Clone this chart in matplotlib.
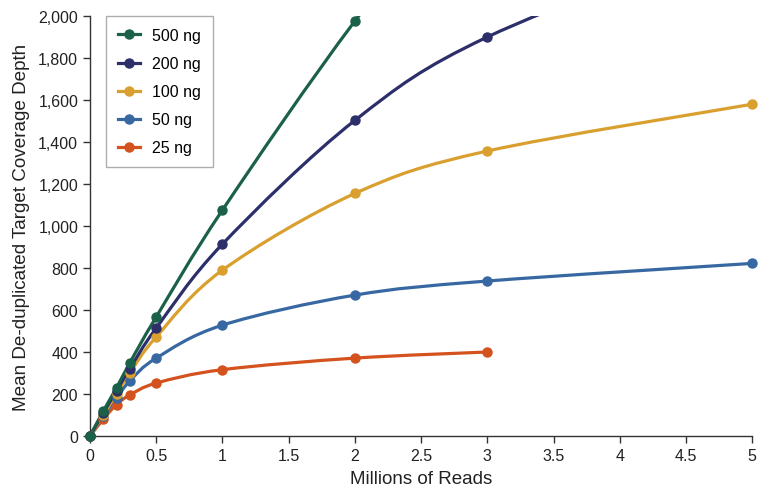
import numpy as np
import matplotlib
matplotlib.use("Agg")
import matplotlib.pyplot as plt
from matplotlib.path import Path
from matplotlib.patches import PathPatch
from matplotlib.lines import Line2D
from matplotlib.ticker import FuncFormatter

plt.rcParams['font.family'] = ['Liberation Sans', 'DejaVu Sans']

labels = ["500 ng", "200 ng", "100 ng", "50 ng", "25 ng"]
colors = ["#1b6048", "#2c2f6a", "#d9a030", "#3868a2", "#d3521e"]

x_500 = [0, 0.1, 0.2, 0.3, 0.5, 1, 2, 3]
y_500 = [0, 119, 229, 348, 567, 1076, 1976, 2750]
x_200 = [0, 0.1, 0.2, 0.3, 0.5, 1, 2, 3, 5]
y_200 = [0, 110, 215, 320, 514, 914, 1503, 1900, 2400]
x_100 = [0, 0.1, 0.2, 0.3, 0.5, 1, 2, 3, 5]
y_100 = [0, 100, 200, 300, 472, 790, 1155, 1357, 1580]
x_50 = [0, 0.1, 0.2, 0.3, 0.5, 1, 2, 3, 5]
y_50 = [0, 95, 180, 262, 371, 528, 671, 738, 822]
x_25 = [0, 0.1, 0.2, 0.3, 0.5, 1, 2, 3]
y_25 = [0, 80, 150, 195, 252, 316, 371, 400]

series = [(x_500, y_500), (x_200, y_200), (x_100, y_100), (x_50, y_50), (x_25, y_25)]


def smooth_path(xs, ys):
    p = np.column_stack([xs, ys]).astype(float)
    n = len(p)
    verts = [p[0]]
    codes = [Path.MOVETO]
    for i in range(n - 1):
        p0 = p[i - 1] if i > 0 else p[i]
        p1 = p[i]
        p2 = p[i + 1]
        p3 = p[i + 2] if i + 2 < n else p[i + 1]
        c1 = p1 + (p2 - p0) / 6.0
        c2 = p2 - (p3 - p1) / 6.0
        verts += [c1, c2, p2]
        codes += [Path.CURVE4] * 3
    return Path(verts, codes)


fig = plt.figure(figsize=(7.59, 4.89), dpi=100)
ax = fig.add_axes([0.1186, 0.1063, 0.8724, 0.8589])

for (xs, ys), c in reversed(list(zip(series, colors))):
    patch = PathPatch(smooth_path(xs, ys), facecolor='none', edgecolor=c, lw=2.3,
                      capstyle='round', joinstyle='round')
    ax.add_patch(patch)
    xs_a = np.array(xs); ys_a = np.array(ys)
    m = ys_a <= 2000
    ax.plot(xs_a[m], ys_a[m], 'o', color=c, ms=6.5, zorder=3, clip_on=False)

ax.set_xlim(0, 5)
ax.set_ylim(0, 2000)
ax.set_xticks(np.arange(0, 5.01, 0.5))
ax.set_xticklabels(["0", "0.5", "1", "1.5", "2", "2.5", "3", "3.5", "4", "4.5", "5"])
ax.set_yticks(np.arange(0, 2001, 200))
ax.yaxis.set_major_formatter(FuncFormatter(lambda v, p: f"{int(v):,}"))
for s in ['top', 'right']:
    ax.spines[s].set_visible(False)
for s in ['left', 'bottom']:
    ax.spines[s].set_color('#333333')
    ax.spines[s].set_linewidth(1.0)
ax.tick_params(axis='both', colors='#333333', labelcolor='#222222', labelsize=11.5,
               direction='out', length=5, width=1.0)
ax.set_xlabel("Millions of Reads", fontsize=13.5, color='#222222', labelpad=5)
ax.set_ylabel("Mean De-duplicated Target Coverage Depth", fontsize=13.6, color='#222222', labelpad=6)

handles = [Line2D([0], [0], color=c, lw=2.3, marker='o', ms=6.5) for c in colors]
leg = ax.legend(handles, labels, loc='upper left', bbox_to_anchor=(0.024, 1.0),
                frameon=True, fancybox=False, edgecolor='#999999', fontsize=11.5,
                handlelength=1.4, borderpad=0.75, labelspacing=0.82, handletextpad=0.75,
                borderaxespad=0)
leg.get_frame().set_linewidth(1.0)

fig.savefig("out.png", dpi=100)
